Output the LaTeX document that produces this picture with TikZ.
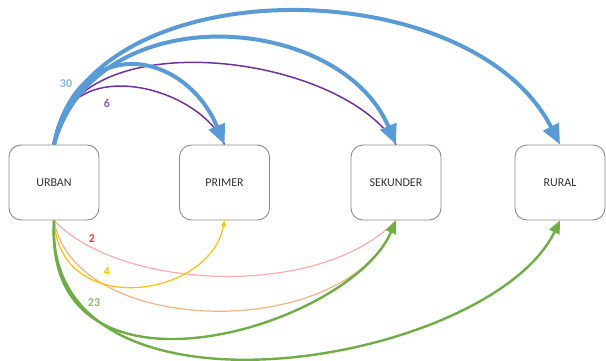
\documentclass[tikz,border=0pt]{standalone}
\usepackage{fontspec}
\setmainfont{Carlito}
\usetikzlibrary{arrows.meta}
\definecolor{flowblue}{HTML}{5B9BD5}
\definecolor{flowpurple}{HTML}{7030A0}
\definecolor{flowgreen}{HTML}{70AD47}
\definecolor{flowpink}{HTML}{FFABAB}
\definecolor{floworange}{HTML}{F4B183}
\definecolor{flowyellow}{HTML}{FFC000}
\definecolor{boxgray}{HTML}{8C8C8C}
\tikzset{box/.style = {draw = boxgray, line width = 0.9pt, rounded corners = 12pt, minimum width = 90pt, minimum height = 75pt, text = black!80, font = \fontsize{12}{14}\selectfont}}
\tikzset{num/.style = {font = \bfseries\fontsize{12}{14}\selectfont}}
\tikzset{bigflow/.style = {flowblue, line width = 4pt, -{Triangle[length=20pt, width=17pt]}}}
\tikzset{midflow/.style = {flowgreen, line width = 2.4pt, -{Triangle[length=13pt, width=11pt]}}}

\begin{document}
\begin{tikzpicture}[x=1pt, y=1pt]
\useasboundingbox (0,0) rectangle (606,-361);
\node [box] (urban) at (54,-182.5) {URBAN};
\node [box] (primer) at (224.5,-182.5) {PRIMER};
\node [box] (sekunder) at (396,-182.5) {SEKUNDER};
\node [box] (rural) at (560,-182.5) {RURAL};
% above: URBAN to others
\draw [flowpurple, line width = 1.5pt] (urban.north) .. controls (62,-50) and (200,-85) .. (primer.north);
\draw [flowpurple, line width = 1.5pt] (urban.north) .. controls (68,-20) and (340,-51) .. (sekunder.north);
\draw [bigflow] (urban.north) .. controls (78,-30) and (185,-50) .. (primer.north);
\draw [bigflow] (urban.north) .. controls (95,5) and (340,-12) .. (sekunder.north);
\draw [bigflow] (urban.north) .. controls (88,32) and (470,32) .. (rural.north);
% below: URBAN to others
\draw [flowpink, line width = 1.2pt] (urban.south) .. controls (120,-290) and (320,-300) .. (sekunder.south);
\draw [floworange, line width = 1.2pt] (urban.south) .. controls (75,-340) and (355,-343) .. (sekunder.south);
\draw [flowyellow, line width = 1.2pt, -{Triangle[length=6pt, width=5pt]}] (urban.south) .. controls (60,-320) and (210,-298) .. (primer.south);
\draw [midflow] (urban.south) .. controls (42,-420) and (350,-328) .. (sekunder.south);
\draw [midflow] (urban.south) .. controls (42,-440) and (490,-366) .. (rural.south);
% numbers
\node [num, flowblue!75] (n30) at (66,-84) {30};
\node [num, flowpurple!80] (n6) at (107,-103) {6};
\node [num, red!80] (n2) at (92,-239) {2};
\node [num, flowyellow] (n4) at (107,-272) {4};
\node [num, flowgreen!80] (n23) at (94,-303) {23};
\end{tikzpicture}
\end{document}
